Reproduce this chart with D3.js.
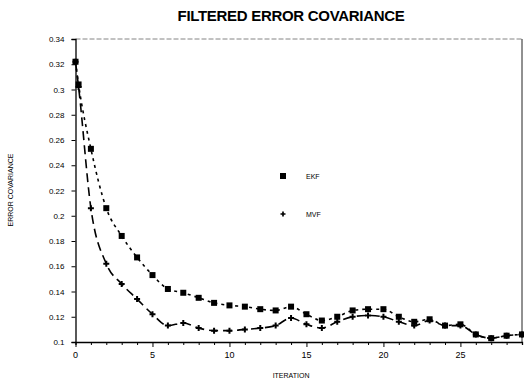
<!DOCTYPE html>
<html>
<head>
<meta charset="utf-8">
<script src="https://cdn.jsdelivr.net/npm/d3@7"></script>
<style>
  body { margin: 0; background: #fff; }
  svg { display: block; font-family: "Liberation Sans", Arial, sans-serif; }
</style>
</head>
<body>
<svg id="chart"></svg>
<script>
// iteration index for each point (two points at the very start)
const iterations = [0, 0.2, 1, 2, 3, 4, 5, 6, 7, 8, 9, 10, 11, 12, 13, 14, 15, 16, 17, 18, 19, 20, 21, 22, 23, 24, 25, 26, 27, 28, 29];
const ekf = [0.322, 0.304, 0.253, 0.206, 0.184, 0.167, 0.153, 0.142, 0.139, 0.135, 0.131, 0.129, 0.128, 0.126, 0.125, 0.128, 0.122, 0.117, 0.120, 0.125, 0.126, 0.126, 0.120, 0.116, 0.118, 0.113, 0.114, 0.106, 0.103, 0.105, 0.106];
const mvf = [0.322, 0.302, 0.206, 0.162, 0.146, 0.134, 0.122, 0.113, 0.115, 0.111, 0.109, 0.109, 0.110, 0.111, 0.113, 0.119, 0.114, 0.111, 0.116, 0.120, 0.121, 0.120, 0.116, 0.113, 0.117, 0.113, 0.113, 0.106, 0.103, 0.105, 0.106];
const yTicks = [0.1, 0.12, 0.14, 0.16, 0.18, 0.2, 0.22, 0.24, 0.26, 0.28, 0.3, 0.32, 0.34];
const xTicks = [0, 5, 10, 15, 20, 25];

const width = 524, height = 382;
const svg = d3.select("#chart").attr("width", width).attr("height", height);

const x = d3.scaleLinear().domain([0, 29]).range([75.5, 522]);
const y = d3.scaleLinear().domain([0.1, 0.34]).range([342, 39]);

// title
svg.append("text")
    .attr("x", 291).attr("y", 21)
    .attr("text-anchor", "middle")
    .style("font-size", "15px")
    .style("font-weight", "bold")
    .style("letter-spacing", "-0.3px")
    .text("FILTERED ERROR COVARIANCE");

// frame: dotted top, thin right
svg.append("line")
    .attr("x1", x(0)).attr("x2", x(29)).attr("y1", y(0.34)).attr("y2", y(0.34))
    .style("stroke", "#666").style("stroke-width", 0.8).style("stroke-dasharray", "5,2");
svg.append("line")
    .attr("x1", x(29)).attr("x2", x(29)).attr("y1", y(0.34)).attr("y2", y(0.1))
    .style("stroke", "#222").style("stroke-width", 1);

// y axis
const yAxis = svg.append("g")
    .attr("transform", `translate(${x(0)},0)`)
    .call(d3.axisLeft(y).tickValues(yTicks).tickSize(4)
        .tickFormat(d => d3.format("")(+d.toFixed(2))));
yAxis.select(".domain").style("stroke-width", 1.3);
yAxis.selectAll("text").style("font-size", "8px").attr("dx", "-4");

// x axis
const xAxis = svg.append("g")
    .attr("transform", `translate(0,${y(0.1)})`)
    .call(d3.axisBottom(x).tickValues(d3.range(0, 30)).tickSize(3).tickFormat(""));
xAxis.select(".domain").style("stroke-width", 1.3);
xAxis.selectAll(".tick line").filter(d => d % 5 === 0).attr("y2", 5);
svg.append("g").selectAll("text")
    .data(xTicks).enter().append("text")
    .attr("x", d => x(d)).attr("y", 358)
    .attr("text-anchor", "middle")
    .style("font-size", "9px")
    .text(d => d);

// axis titles
svg.append("text")
    .attr("x", x(14)).attr("y", 378)
    .attr("text-anchor", "middle")
    .style("font-size", "7px")
    .text("ITERATION");
svg.append("text")
    .attr("transform", "translate(13,190) rotate(-90)")
    .attr("text-anchor", "middle")
    .style("font-size", "7px")
    .text("ERROR COVARIANCE");

const line = d3.line()
    .x((d, i) => x(iterations[i]))
    .y(d => y(d))
    .curve(d3.curveMonotoneX);

// MVF curve
svg.append("path")
    .datum(mvf)
    .attr("d", line)
    .style("fill", "none").style("stroke", "#000")
    .style("stroke-width", 1.6).style("stroke-dasharray", "9,5");

// EKF curve
svg.append("path")
    .datum(ekf)
    .attr("d", line)
    .style("fill", "none").style("stroke", "#000")
    .style("stroke-width", 1.6).style("stroke-dasharray", "3,4");

// EKF markers
svg.append("g").selectAll("rect")
    .data(ekf).enter().append("rect")
    .attr("x", (d, i) => x(iterations[i]) - 3)
    .attr("y", d => y(d) - 3)
    .attr("width", 6).attr("height", 6)
    .style("fill", "#000");

// MVF markers
const plus = d3.symbol().type(d3.symbolCross).size(20);
svg.append("g").selectAll("path")
    .data(mvf).enter().append("path")
    .attr("d", plus)
    .attr("transform", (d, i) => `translate(${x(iterations[i])},${y(d)})`)
    .style("fill", "#000");

// legend
const legend = svg.append("g");
legend.append("rect")
    .attr("x", 280).attr("y", 173).attr("width", 6).attr("height", 6)
    .style("fill", "#000");
legend.append("text")
    .attr("x", 306).attr("y", 179)
    .style("font-size", "7px")
    .text("EKF");
legend.append("path")
    .attr("d", d3.symbol().type(d3.symbolCross).size(14))
    .attr("transform", "translate(283,214)")
    .style("fill", "#000");
legend.append("text")
    .attr("x", 306).attr("y", 217)
    .style("font-size", "7px")
    .text("MVF");
</script>
</body>
</html>
